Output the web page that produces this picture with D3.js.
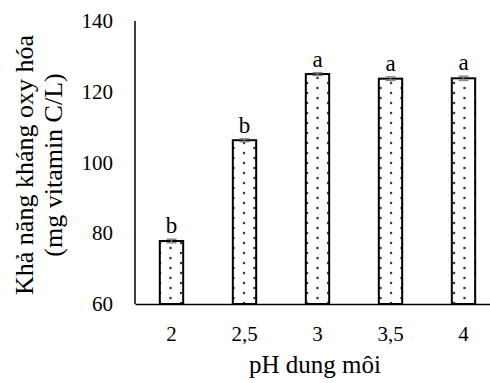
<!DOCTYPE html>
<html>
<head>
<meta charset="utf-8">
<script src="https://cdn.jsdelivr.net/npm/d3@7"></script>
<style>
  body { margin: 0; background: #fff; }
  svg { display: block; }
  text { font-family: "Liberation Serif", "Times New Roman", serif; fill: #000; }
</style>
</head>
<body>
<div id="chart"></div>
<script>
// pH values (x categories)
var categories = ["2", "2,5", "3", "3,5", "4"];
// antioxidant capacity, mg vitamin C/L
var values = [77.8, 106.3, 125.0, 123.7, 123.8];
var errors = [0.5, 0.4, 0.4, 0.5, 0.6];
var letters = ["b", "b", "a", "a", "a"];
var yTicks = [60, 80, 100, 120, 140];

var margin = { top: 21, right: -10, bottom: 79, left: 135 };
var width = 490 - margin.left - margin.right,
	height = 383 - margin.top - margin.bottom;

var svg = d3.select("#chart").append("svg")
	.attr("width", 490)
	.attr("height", 383);

// dotted fill, two staggered columns
var pat = svg.append("defs").append("pattern")
	.attr("id", "dots")
	.attr("patternUnits", "userSpaceOnUse")
	.attr("width", 21)
	.attr("height", 10)
	.attr("x", 3);
pat.append("rect").attr("width", 21).attr("height", 10).attr("fill", "#fff");
pat.append("circle").attr("cx", 1).attr("cy", 2).attr("r", 1.3).attr("fill", "#3a3a3a");
pat.append("circle").attr("cx", 11.5).attr("cy", 7).attr("r", 1.3).attr("fill", "#3a3a3a");

var g = svg.append("g")
	.attr("transform", "translate(" + margin.left + "," + margin.top + ")");

var x = d3.scaleBand().domain(categories).range([0, width]).paddingInner(0.68).paddingOuter(0.34);
var y = d3.scaleLinear().domain([60, 140]).range([height, 0]);

// y axis (labels only + line)
var yAxis = g.append("g")
	.call(d3.axisLeft(y).tickValues(yTicks).tickSize(0).tickPadding(22));
yAxis.select(".domain").remove();
yAxis.selectAll("text").style("font-size", "21px").style("font-family", "Liberation Serif");

g.append("line")
	.attr("x1", 0).attr("x2", 0)
	.attr("y1", 0).attr("y2", height)
	.attr("stroke", "#000").attr("stroke-width", 1.5);

// bars
var bars = g.selectAll(".bar").data(values).enter();

bars.append("rect")
	.attr("x", function(d, i){ return x(categories[i]); })
	.attr("y", function(d){ return y(d); })
	.attr("width", x.bandwidth())
	.attr("height", function(d){ return height - y(d); })
	.attr("fill", "url(#dots)")
	.attr("stroke", "#000")
	.attr("stroke-width", 2);

// error bars
var eb = g.selectAll(".err").data(values).enter().append("g")
	.attr("stroke", "#888").attr("stroke-width", 1.5);
eb.append("line")
	.attr("x1", function(d, i){ return x(categories[i]) + x.bandwidth() / 2; })
	.attr("x2", function(d, i){ return x(categories[i]) + x.bandwidth() / 2; })
	.attr("y1", function(d, i){ return y(d - errors[i]); })
	.attr("y2", function(d, i){ return y(d + errors[i]); });
eb.append("line")
	.attr("x1", function(d, i){ return x(categories[i]) + x.bandwidth() / 2 - 5; })
	.attr("x2", function(d, i){ return x(categories[i]) + x.bandwidth() / 2 + 5; })
	.attr("y1", function(d, i){ return y(d + errors[i]); })
	.attr("y2", function(d, i){ return y(d + errors[i]); });
eb.append("line")
	.attr("x1", function(d, i){ return x(categories[i]) + x.bandwidth() / 2 - 5; })
	.attr("x2", function(d, i){ return x(categories[i]) + x.bandwidth() / 2 + 5; })
	.attr("y1", function(d, i){ return y(d - errors[i]); })
	.attr("y2", function(d, i){ return y(d - errors[i]); });

// significance letters
g.selectAll(".lbl").data(values).enter().append("text")
	.attr("x", function(d, i){ return x(categories[i]) + x.bandwidth() / 2; })
	.attr("y", function(d, i){ return y(d + errors[i]) - 6; })
	.attr("text-anchor", "middle")
	.style("font-size", "23px")
	.text(function(d, i){ return letters[i]; });

// x axis
var xAxis = g.append("g")
	.attr("transform", "translate(0," + height + ")")
	.call(d3.axisBottom(x).tickSize(0).tickPadding(22));
xAxis.select(".domain").attr("stroke", "#000").attr("stroke-width", 1.5);
xAxis.selectAll("text").style("font-size", "21px").style("font-family", "Liberation Serif");

// axis titles
svg.append("text")
	.attr("x", 315)
	.attr("y", 373)
	.attr("text-anchor", "middle")
	.style("font-size", "25px")
	.text("pH dung môi");

var yt = svg.append("text")
	.attr("transform", "translate(33,165) rotate(-90)")
	.attr("text-anchor", "middle")
	.style("font-size", "26px");
yt.append("tspan").attr("x", 0).attr("dy", 0).text("Khả năng kháng oxy hóa");
yt.append("tspan").attr("x", 0).attr("dy", 29).text("(mg vitamin C/L)");
</script>
</body>
</html>
